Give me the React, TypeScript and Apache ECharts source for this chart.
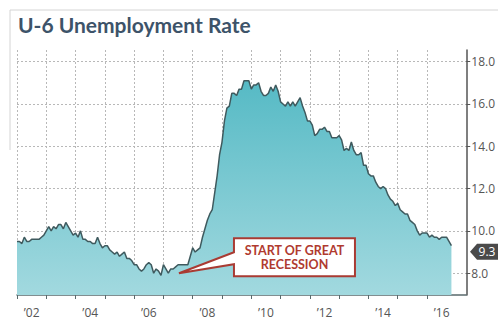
import { useEffect, useRef } from 'react';
import * as echarts from 'echarts';

const startYear = 2002;
const u6_2002 = [9.5, 9.5, 9.4, 9.7, 9.5, 9.5, 9.6, 9.6, 9.6, 9.6, 9.7, 9.8];
const u6_2003 = [10.0, 10.2, 10.0, 10.2, 10.1, 10.3, 10.3, 10.1, 10.4, 10.2, 10.0, 9.8];
const u6_2004 = [9.9, 9.7, 10.0, 9.6, 9.6, 9.5, 9.5, 9.4, 9.4, 9.7, 9.4, 9.2];
const u6_2005 = [9.3, 9.3, 9.1, 9.0, 8.9, 9.0, 8.8, 8.9, 9.0, 8.7, 8.7, 8.6];
const u6_2006 = [8.4, 8.4, 8.2, 8.1, 8.2, 8.4, 8.5, 8.4, 8.0, 8.2, 8.1, 7.9];
const u6_2007 = [8.4, 8.2, 8.0, 8.2, 8.2, 8.3, 8.4, 8.4, 8.4, 8.4, 8.4, 8.8];
const u6_2008 = [9.2, 9.0, 9.1, 9.2, 9.7, 10.1, 10.5, 10.8, 11.0, 11.8, 12.6, 13.6];
const u6_2009 = [14.2, 15.2, 15.8, 15.9, 16.5, 16.5, 16.4, 16.7, 16.7, 17.1, 17.1, 17.1];
const u6_2010 = [16.7, 16.9, 16.9, 17.0, 16.6, 16.4, 16.4, 16.5, 16.8, 16.6, 16.9, 16.6];
const u6_2011 = [16.1, 16.0, 15.9, 16.1, 15.9, 16.1, 15.9, 16.1, 16.3, 15.9, 15.6, 15.2];
const u6_2012 = [15.2, 15.0, 14.5, 14.6, 14.8, 14.8, 14.9, 14.7, 14.7, 14.4, 14.4, 14.4];
const u6_2013 = [14.5, 14.3, 13.8, 13.9, 13.8, 14.2, 13.8, 13.6, 13.6, 13.7, 13.1, 13.1];
const u6_2014 = [12.7, 12.6, 12.6, 12.3, 12.1, 12.0, 12.1, 12.0, 11.7, 11.5, 11.4, 11.2];
const u6_2015 = [11.3, 11.0, 10.9, 10.8, 10.8, 10.5, 10.4, 10.3, 10.0, 9.8, 9.9, 9.9];
const u6_2016 = [9.9, 9.7, 9.8, 9.7, 9.7, 9.6, 9.7, 9.7, 9.7, 9.5, 9.3];

const yearTicks = [2002, 2003, 2004, 2005, 2006, 2007, 2008, 2009, 2010, 2011, 2012, 2013, 2014, 2015, 2016];
const yearLabelPositions = [2002.5, 2004.5, 2006.5, 2008.5, 2010.5, 2012.5, 2014.5, 2016.5];
const yTickValues = [8, 10, 12, 14, 16, 18];
const titleText = 'U-6 Unemployment Rate';
const calloutLines = ['START OF GREAT', 'RECESSION'];
const calloutPoint = [2007.53, 8.0];

export default function App() {
  const ref = useRef<HTMLDivElement>(null);
  useEffect(() => {
    const chart = echarts.init(ref.current!, null, { renderer: 'svg' });
    const yearly = [u6_2002, u6_2003, u6_2004, u6_2005, u6_2006, u6_2007, u6_2008, u6_2009,
      u6_2010, u6_2011, u6_2012, u6_2013, u6_2014, u6_2015, u6_2016];
    const data: number[][] = [];
    yearly.forEach((arr, i) => arr.forEach((v, m) => data.push([startYear + i + m / 12, v])));
    const last = data[data.length - 1];

    chart.setOption({
      animation: false,
      backgroundColor: '#ffffff',
      title: {
        text: titleText,
        left: 13,
        top: 9,
        textStyle: { fontFamily: 'Lato', fontWeight: 700, fontSize: 21, color: '#3d5369' },
      },
      grid: { left: 17, right: 29, top: 50, bottom: 25 },
      xAxis: {
        type: 'value',
        min: 2002,
        max: 2017.34,
        axisLine: { show: true, lineStyle: { color: '#5a6a6c', width: 1.5 } },
        axisTick: { show: true, length: 4, customValues: yearTicks, lineStyle: { color: '#5a6a6c' } },
        axisLabel: {
          customValues: yearLabelPositions,
          formatter: (v: number) => '\u2019' + String(Math.floor(v)).slice(2),
          color: '#555',
          fontFamily: 'Open Sans',
          fontSize: 12,
          margin: 11,
        },
        splitLine: { show: true, lineStyle: { color: '#b8b8b8', type: [2, 2], width: 1 } },
      },
      yAxis: {
        type: 'value',
        position: 'right',
        min: 6.97,
        max: 18.55,
        axisLine: { show: true, lineStyle: { color: '#555', width: 1.5 } },
        axisTick: { show: true, length: 4, inside: false, customValues: yTickValues, lineStyle: { color: '#555' } },
        axisLabel: {
          customValues: yTickValues,
          formatter: (v: number) => v.toFixed(1),
          color: '#555',
          fontFamily: 'Open Sans',
          fontSize: 12,
          margin: 5,
        },
        splitLine: { show: true, lineStyle: { color: '#b8b8b8', type: [2, 2], width: 1 } },
      },
      series: [
        {
          type: 'line',
          data,
          showSymbol: false,
          symbol: 'none',
          lineStyle: { color: '#3f5a5e', width: 1.5 },
          areaStyle: {
            origin: 'start',
            color: new echarts.graphic.LinearGradient(0, 0, 0, 1, [
              { offset: 0, color: '#56bac5' },
              { offset: 1, color: '#a2d9df' },
            ]),
            opacity: 1,
          },
        },
      ],
    });

    const tip = chart.convertToPixel({ gridIndex: 0 }, calloutPoint) as number[];
    const lastPx = chart.convertToPixel({ gridIndex: 0 }, [last[0], last[1]]) as number[];
    const bx = tip[0] + 55;
    const by = tip[1] - 35;
    const bw = 121;
    const bh = 38;
    const tagX = 470;
    const tagY = lastPx[1] + 6;

    chart.setOption({
      graphic: [
        {
          type: 'polyline',
          silent: true,
          z: 100,
          shape: { points: [[10, 150], [10, 10], [498, 10]] },
          style: { stroke: '#d4d4d4', lineWidth: 1, fill: null },
        },
        {
          type: 'polygon',
          silent: true,
          z: 100,
          shape: {
            points: [
              [bx, by], [bx + bw, by], [bx + bw, by + bh], [bx, by + bh],
              [bx, by + 26], [tip[0], tip[1]], [bx, by + 14],
            ],
          },
          style: { fill: '#ffffff', stroke: '#a93b33', lineWidth: 2 },
        },
        ...calloutLines.map((line, i) => ({
          type: 'text',
          silent: true,
          z: 101,
          x: bx + bw / 2,
          y: by + 12.5 + i * 13.5,
          style: {
            text: line,
            fill: '#b03a2f',
            font: 'bold 12.5px Lato',
            align: 'center',
            verticalAlign: 'middle',
          },
        })),
        {
          type: 'polygon',
          silent: true,
          z: 100,
          shape: {
            points: [
              [tagX, tagY], [tagX + 7, tagY - 8], [498, tagY - 8], [498, tagY + 8], [tagX + 7, tagY + 8],
            ],
          },
          style: { fill: '#4a4a4a' },
        },
        {
          type: 'text',
          silent: true,
          z: 101,
          x: tagX + 17,
          y: tagY,
          style: {
            text: String(last[1]),
            fill: '#ffffff',
            font: '12px "Open Sans"',
            align: 'center',
            verticalAlign: 'middle',
          },
        },
      ],
    });

    return () => chart.dispose();
  }, []);
  return <div ref={ref} style={{ position: 'fixed', left: 0, top: 0, width: 498, height: 320 }} />;
}
